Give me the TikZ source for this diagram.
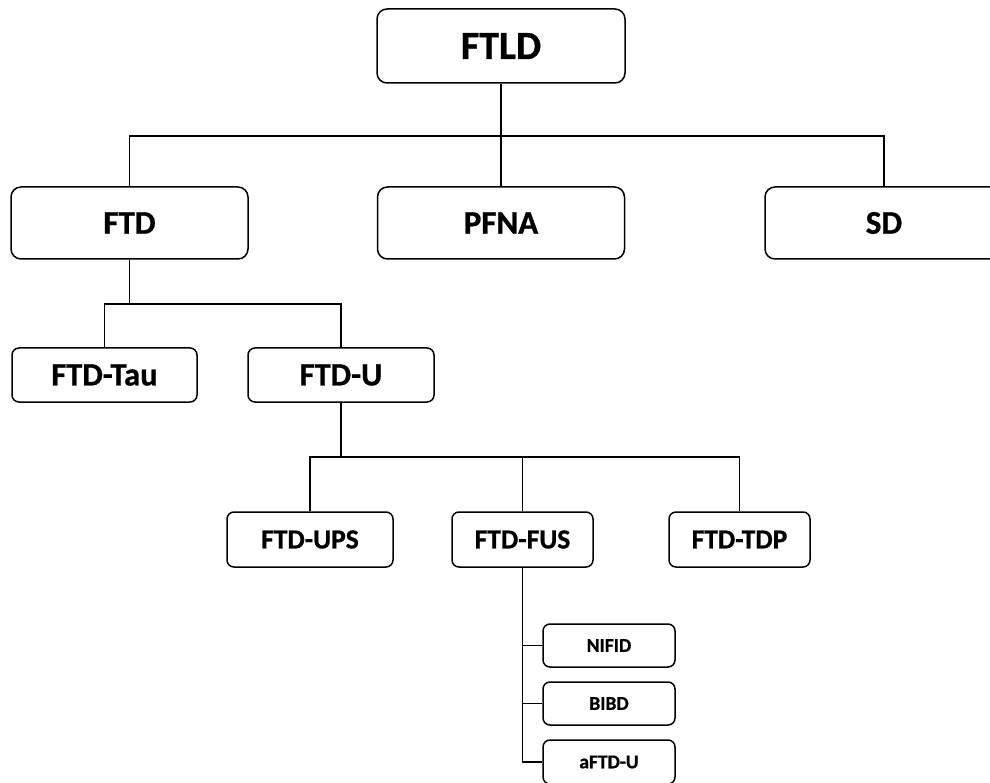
\documentclass[tikz,border=0pt]{standalone}
\usepackage{fontspec}
\setmainfont{Carlito}[BoldFeatures={FakeBold=0.8}]
\begin{document}
\begin{tikzpicture}[x=1pt,y=-1pt,
  box/.style={draw=black,line width=1.5pt,rounded corners=10pt,fill=white,inner sep=0pt,align=center,font=\bfseries},
  smallbox/.style={box,rounded corners=7pt},
  conn/.style={draw=black,line width=1.5pt}]
\useasboundingbox (0,0) rectangle (990,783);
\clip (0,0) rectangle (990,783);
\fill[white] (0,0) rectangle (990,783);
% level 0
\node[box,minimum width=248pt,minimum height=74pt,font=\bfseries\fontsize{40}{46}\selectfont] (ftld) at (501,46) {FTLD};
% level 1
\node[box,minimum width=237pt,minimum height=72pt,font=\bfseries\fontsize{33}{38}\selectfont] (ftd) at (129.5,223) {FTD};
\node[box,minimum width=247pt,minimum height=72pt,font=\bfseries\fontsize{33}{38}\selectfont] (pfna) at (501,223) {PFNA};
\node[box,minimum width=238pt,minimum height=72pt,font=\bfseries\fontsize{33}{38}\selectfont] (sd) at (884,223) {SD};
% level 2
\node[smallbox,minimum width=185pt,minimum height=54pt,font=\bfseries\fontsize{32.5}{37}\selectfont] (tau) at (104.5,375) {FTD-Tau};
\node[smallbox,minimum width=186pt,minimum height=54pt,font=\bfseries\fontsize{32.5}{37}\selectfont] (ftdu) at (341,375) {FTD-U};
% level 3
\node[smallbox,minimum width=166pt,minimum height=55pt,font=\bfseries\fontsize{27.5}{32}\selectfont] (ups) at (310,539.5) {FTD-UPS};
\node[smallbox,minimum width=141pt,minimum height=55pt,font=\bfseries\fontsize{27.5}{32}\selectfont] (fus) at (522.5,539.5) {FTD-FUS};
\node[smallbox,minimum width=141pt,minimum height=55pt,font=\bfseries\fontsize{27.5}{32}\selectfont] (tdp) at (739.5,539.5) {FTD-TDP};
% level 4
\node[smallbox,minimum width=132pt,minimum height=43pt,font=\bfseries\fontsize{19.5}{23}\selectfont] (nifid) at (609,645.5) {NIFID};
\node[smallbox,minimum width=132pt,minimum height=43pt,font=\bfseries\fontsize{19.5}{23}\selectfont] (bibd) at (609,703.5) {BIBD};
\node[smallbox,minimum width=132pt,minimum height=44pt,font=\bfseries\fontsize{19.5}{23}\selectfont] (aftdu) at (609,762) {aFTD-U};
% junctions
\coordinate (j1) at (501,136);
\coordinate (j2) at (129.5,304);
\coordinate (j3) at (341,457);
% connectors
\draw[conn] (ftld.south) -- (pfna.north);
\draw[conn] (ftd.north) |- (j1) -| (sd.north);
\draw[conn] (ftd.south) -- (j2);
\draw[conn] (tau.north) |- (j2) -| (ftdu.north);
\draw[conn] (ftdu.south) -- (j3);
\draw[conn] (ups.north) |- (j3) -| (tdp.north);
\draw[conn] (fus.north) -- (fus.north |- j3);
\draw[conn] (fus.south) |- (aftdu.west);
\draw[conn] (fus.south |- nifid.west) -- (nifid.west);
\draw[conn] (fus.south |- bibd.west) -- (bibd.west);
\end{tikzpicture}
\end{document}
